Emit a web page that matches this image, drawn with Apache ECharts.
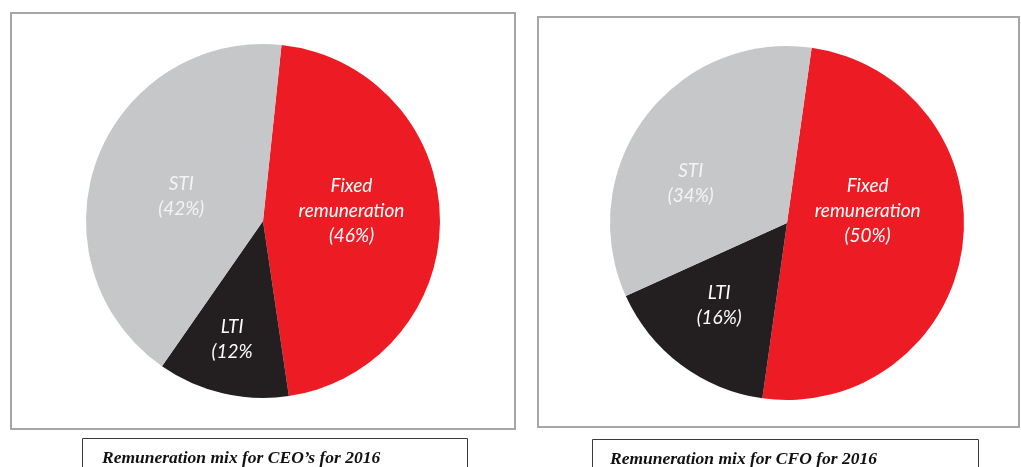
<!DOCTYPE html>
<html>
<head>
<meta charset="utf-8">
<script src="https://cdn.jsdelivr.net/npm/echarts@6/dist/echarts.min.js"></script>
<style>
  html, body { margin: 0; padding: 0; background: #fff; }
  #main { width: 1021px; height: 467px; }
</style>
</head>
<body>
<div id="main"></div>
<script>
// slices, clockwise from the top
var categories = ['Fixed remuneration', 'LTI', 'STI'];
var ceoValues = [46, 12, 42];
var cfoValues = [50, 16, 34];
// label texts as printed on the slices
var ceoLabels = ['Fixed\nremuneration\n(46%)', 'LTI\n(12%', 'STI\n(42%)'];
var cfoLabels = ['Fixed\nremuneration\n(50%)', 'LTI\n(16%)', 'STI\n(34%)'];
var captions = ['Remuneration mix for CEO\u2019s for 2016', 'Remuneration mix for CFO for 2016'];

var colors = ['#ed1c24', '#231f20', '#c6c7c8'];
var labelColors = ['#ffffff', '#ffffff', '#f4f4f4'];

var chart = echarts.init(document.getElementById('main'), null, { renderer: 'canvas' });

function buildSeries(values, labels, center, startAngle, shifts) {
  return {
    type: 'pie',
    center: center,
    radius: 177,
    startAngle: startAngle,
    clockwise: true,
    animation: false,
    silent: true,
    itemStyle: { borderWidth: 0 },
    label: {
      show: true,
      position: 'inside',
      fontFamily: 'Lato',
      fontStyle: 'italic',
      fontSize: 19,
      lineHeight: 25,
      align: 'center'
    },
    labelLine: { show: false },
    labelLayout: function (p) {
      var s = shifts[p.dataIndex];
      return { dx: s[0], dy: s[1] };
    },
    data: values.map(function (v, i) {
      return {
        name: categories[i],
        value: v,
        itemStyle: { color: colors[i] },
        label: { formatter: labels[i], color: labelColors[i] }
      };
    })
  };
}

var option = {
  graphic: [
    { type: 'rect', shape: { x: 11, y: 13, width: 504, height: 416 }, style: { fill: 'none', stroke: '#a6a6a6', lineWidth: 2 } },
    { type: 'rect', shape: { x: 538, y: 17, width: 481, height: 410 }, style: { fill: 'none', stroke: '#a6a6a6', lineWidth: 2 } },
    { type: 'rect', shape: { x: 82.5, y: 438.5, width: 385, height: 40 }, style: { fill: 'none', stroke: '#3a3a3a', lineWidth: 1 } },
    { type: 'rect', shape: { x: 592.5, y: 439.5, width: 386, height: 40 }, style: { fill: 'none', stroke: '#3a3a3a', lineWidth: 1 } },
    { type: 'text', x: 102, y: 458, style: { text: captions[0], font: 'italic bold 17.5px "Liberation Serif"', fill: '#111111', verticalAlign: 'middle' } },
    { type: 'text', x: 610, y: 459, style: { text: captions[1], font: 'italic bold 17.5px "Liberation Serif"', fill: '#111111', verticalAlign: 'middle' } }
  ],
  series: [
    buildSeries(ceoValues, ceoLabels, [263, 221], 84, [[-3, -8], [-10, 29], [4, 7]]),
    buildSeries(cfoValues, cfoLabels, [787, 223], 82, [[-10, -25], [-13, 9], [-23, 15]])
  ]
};

chart.setOption(option);
</script>
</body>
</html>
